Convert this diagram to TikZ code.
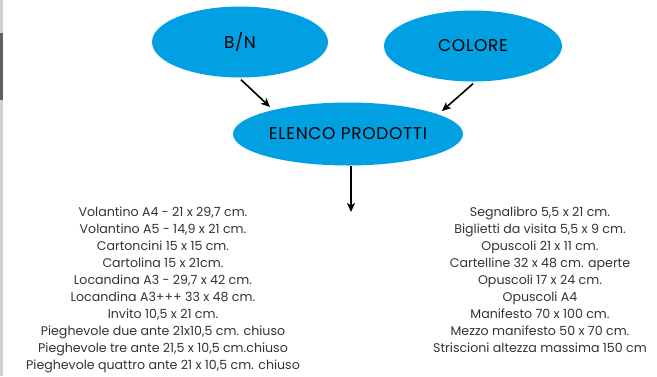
\documentclass[tikz,border=0pt]{standalone}
\usepackage{fontspec}
\setmainfont{Poppins}
\newfontfamily\bubfont[LetterSpace=4]{Poppins}
\usetikzlibrary{shapes.geometric,arrows.meta}
\definecolor{bubble}{HTML}{00A0E3}
\definecolor{listtext}{HTML}{333333}
\tikzset{
  bub/.style={ellipse,fill=bubble,draw=none,inner sep=0pt,font=\bubfont\fontsize{17}{19}\selectfont,text=black},
  conn/.style={-{Stealth[length=9pt,width=8pt,inset=2.5pt]},line width=1.6pt,black},
  listbox/.style={align=center,font=\fontsize{12.6}{17}\selectfont,text=listtext,inner sep=0pt,anchor=north}
}
\begin{document}
\begin{tikzpicture}[x=1pt,y=-1pt]
\useasboundingbox (0,0) rectangle (657,376);
\fill[gray!35] (0,0) rectangle (3,376);
\fill[gray!75!black] (0,33) rectangle (3,100);
\node[bub,minimum width=176pt,minimum height=71pt] (bn) at (240,42) {B/N};
\node[bub,minimum width=178pt,minimum height=71pt] (col) at (473,46) {COLORE};
\node[bub,minimum width=230pt,minimum height=63pt] (el) at (348,134) {ELENCO PRODOTTI};
\coordinate (down) at (351,212);
\draw[conn] (bn.south) ++(1,2) coordinate (bs) -- (270,107) coordinate (bt);
\draw[conn] (col.south) ++(0,2) -- (442,111);
\draw[conn] (el.south) ++(3,0) -- (down);
\node[listbox] (left) at (163,207) {Volantino A4 - 21 x 29,7 cm.\\Volantino A5 - 14,9 x 21 cm.\\Cartoncini 15 x 15 cm.\\Cartolina 15 x 21cm.\\Locandina A3 - 29,7 x 42 cm.\\Locandina A3+++ 33 x 48 cm.\\Invito 10,5 x 21 cm.\\Pieghevole due ante 21x10,5 cm. chiuso\\Pieghevole tre ante 21,5 x 10,5 cm.chiuso\\Pieghevole quattro ante 21 x 10,5 cm. chiuso};
\node[listbox] (right) at (540,207) {Segnalibro 5,5 x 21 cm.\\Biglietti da visita 5,5 x 9 cm.\\Opuscoli 21 x 11 cm.\\Cartelline 32 x 48 cm. aperte\\Opuscoli 17 x 24 cm.\\Opuscoli A4\\Manifesto 70 x 100 cm.\\Mezzo manifesto 50 x 70 cm.\\Striscioni altezza massima 150 cm};
\end{tikzpicture}
\end{document}
